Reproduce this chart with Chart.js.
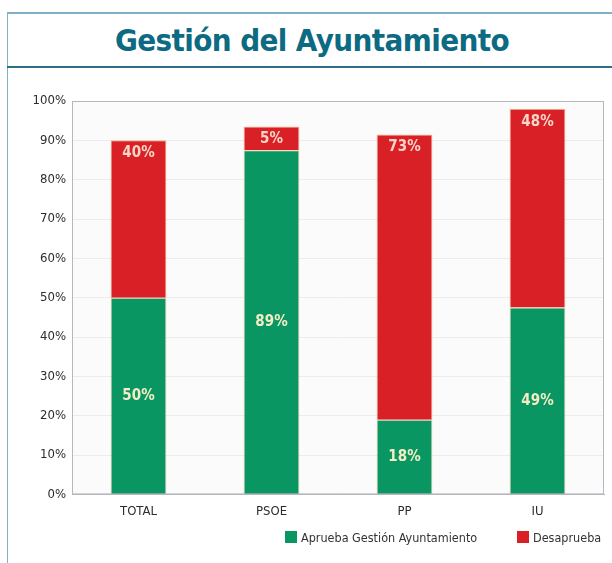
<!DOCTYPE html>
<html>
<head>
<meta charset="utf-8">
<script src="https://cdn.jsdelivr.net/npm/chart.js@4"></script>
<style>
  html, body { margin: 0; padding: 0; background: #fff; }
  body { width: 612px; height: 563px; position: relative; overflow: hidden;
         font-family: 'DejaVu Sans Condensed', 'Liberation Sans Narrow', sans-serif; }
  .frame { position: absolute; left: 7px; top: 12px; width: 620px; height: 560px;
           border-left: 1px solid #7fb2c3; border-top: 2px solid #7fb2c3; }
  .title { position: absolute; left: 7px; top: 14px; width: 610px; height: 52px;
           border-bottom: 2px solid #2a7089; text-align: center;
           font-weight: bold; font-size: 31px; line-height: 52px; color: #0c6a82;
           letter-spacing: -0.6px; }
  .chart { position: absolute; left: 0; top: 70px; }
  .legend { position: absolute; top: 530px; font-size: 12.5px; color: #333; }
  .legend span.box { display: inline-block; width: 12px; height: 12px; vertical-align: -1px; margin-right: 4px; }
</style>
</head>
<body>
<div class="frame"></div>
<div class="title">Gestión del Ayuntamiento</div>
<div class="chart"><canvas id="chartGestion" width="612" height="462"></canvas></div>
<div class="legend" style="left:285px"><span class="box" style="background:#0a9663"></span>Aprueba Gestión Ayuntamiento</div>
<div class="legend" style="left:517px"><span class="box" style="background:#d92027"></span>Desaprueba</div>
<script>
const categories = ['TOTAL', 'PSOE', 'PP', 'IU'];
const apruebaValues = [50, 87.5, 19, 47.5];
const desapruebaValues = [40, 6, 72.5, 50.5];
const apruebaLabels = ['50%', '89%', '18%', '49%'];
const desapruebaLabels = ['40%', '5%', '73%', '48%'];

const palette = {
  green: '#0a9663',
  red: '#d92027',
  greenText: '#f3edc4',
  redText: '#f6d6c6'
};

const fontFamily = "'DejaVu Sans Condensed', 'Liberation Sans Narrow', sans-serif";

// labels inside the bars + box around plot
const barLabels = {
  id: 'barLabels',
  afterDatasetsDraw(chart) {
    const ctx = chart.ctx;
    ctx.save();
    ctx.font = 'bold 15px ' + fontFamily;
    ctx.textAlign = 'center';
    ctx.textBaseline = 'middle';
    const green = chart.getDatasetMeta(0).data;
    const red = chart.getDatasetMeta(1).data;
    green.forEach((bar, i) => {
      ctx.fillStyle = palette.greenText;
      ctx.fillText(apruebaLabels[i], bar.x, (bar.y + bar.base) / 2);
    });
    red.forEach((bar, i) => {
      ctx.fillStyle = palette.redText;
      ctx.fillText(desapruebaLabels[i], bar.x, bar.y + 13);
    });
    const a = chart.chartArea;
    ctx.strokeStyle = '#b5b8bd';
    ctx.lineWidth = 1;
    ctx.strokeRect(a.left + 0.5, a.top + 0.5, a.right - a.left - 1, a.bottom - a.top - 1);
    ctx.restore();
  }
};

const plotBg = {
  id: 'plotBg',
  beforeDraw(chart) {
    const a = chart.chartArea;
    chart.ctx.save();
    chart.ctx.fillStyle = '#fbfbfc';
    chart.ctx.fillRect(a.left, a.top, a.right - a.left, a.bottom - a.top);
    chart.ctx.restore();
  }
};

new Chart(document.getElementById('chartGestion'), {
  type: 'bar',
  data: {
    labels: categories,
    datasets: [
      { label: 'Aprueba Gestión Ayuntamiento', data: apruebaValues, backgroundColor: palette.green,
        borderColor: 'rgba(230,170,80,0.5)', borderWidth: 1 },
      { label: 'Desaprueba', data: desapruebaValues, backgroundColor: palette.red,
        borderColor: 'rgba(240,140,60,0.6)', borderWidth: 1 }
    ]
  },
  options: {
    responsive: false,
    animation: false,
    layout: { padding: { top: 31, right: 8, bottom: 4, left: 0 } },
    datasets: { bar: { barPercentage: 0.42, categoryPercentage: 1 } },
    scales: {
      x: {
        stacked: true,
        grid: { display: false, drawTicks: false },
        border: { color: '#b5b8bd' },
        ticks: { color: '#2b2b2b', padding: 9, font: { family: fontFamily, size: 13 } }
      },
      y: {
        stacked: true,
        min: 0,
        max: 100,
        afterFit(scale) { scale.width = 72; },
        grid: { color: '#ececef', drawTicks: false },
        border: { color: '#b5b8bd' },
        ticks: { stepSize: 10, color: '#2b2b2b', padding: 6,
                 font: { family: fontFamily, size: 13 },
                 callback: v => v + '%' }
      }
    },
    plugins: {
      legend: { display: false },
      tooltip: { enabled: false }
    }
  },
  plugins: [plotBg, barLabels]
});
</script>
</body>
</html>
